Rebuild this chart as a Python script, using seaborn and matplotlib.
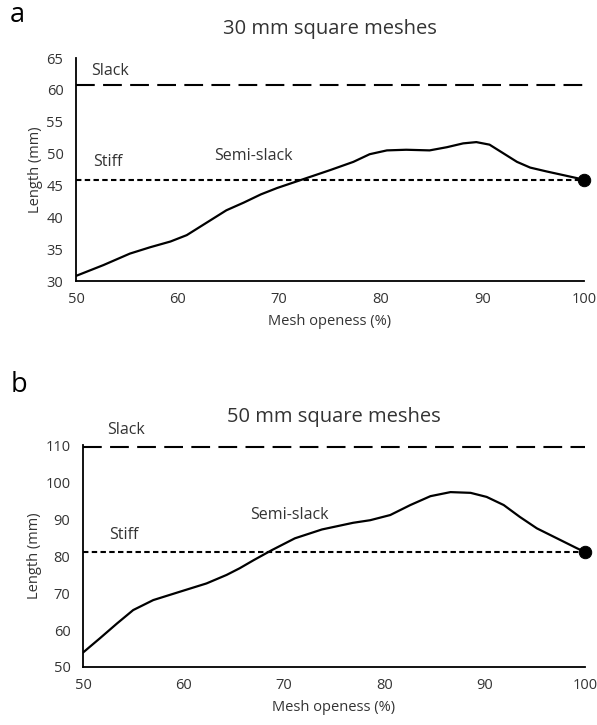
import matplotlib
matplotlib.use("Agg")
import matplotlib.pyplot as plt
import seaborn as sns
import pandas as pd

# ---- data ----
x_a = [50, 52.7, 55.3, 57.3, 59.3, 60.9, 62.2, 63.5, 64.8, 66.5, 68.2, 69.8, 72.4,
       75, 77.3, 78.9, 80.6, 82.5, 84.8, 86.5, 88.1, 89.4, 90.7, 92.1, 93.4,
       94.7, 96.3, 98.3, 100]
y_a = [30.8, 32.5, 34.3, 35.3, 36.2, 37.2, 38.5, 39.8, 41.1, 42.3, 43.6, 44.6, 46.0,
       47.4, 48.7, 49.9, 50.5, 50.6, 50.5, 51.0, 51.6, 51.8, 51.4, 50.0, 48.7,
       47.8, 47.2, 46.5, 45.9]
slack_a = 60.8
stiff_a = 45.9

x_b = [50, 51.7, 53.4, 55.0, 57.0, 59.7, 62.3, 64.3, 65.6, 67.0, 68.8, 71.1, 73.8,
       76.9, 78.6, 80.6, 82.6, 84.6, 86.6, 88.6, 90.2, 91.9, 93.5, 95.2, 97.2,
       99.2, 100]
y_b = [53.9, 57.8, 61.8, 65.4, 68.1, 70.4, 72.6, 74.9, 76.7, 78.9, 81.6, 84.8, 87.2,
       89.0, 89.7, 91.1, 93.8, 96.2, 97.3, 97.1, 96.0, 93.8, 90.6, 87.5, 84.8,
       82.1, 81.1]
slack_b = 109.6
stiff_b = 81.1

x_range = [50, 100]
xticks = [50, 60, 70, 80, 90, 100]
yticks_a = [30, 35, 40, 45, 50, 55, 60, 65]
yticks_b = [50, 60, 70, 80, 90, 100, 110]
titles = ["30 mm square meshes", "50 mm square meshes"]
panel_letters = ["a", "b"]
xlabel = "Mesh openess (%)"
ylabel = "Length (mm)"

sns.set_theme(style="white")
plt.rcParams['font.family'] = ['Open Sans', 'DejaVu Sans']

fig = plt.figure(figsize=(5.97, 7.25), dpi=100)
ax_a = fig.add_axes([0.1273, 0.6124, 0.851, 0.3076])
ax_b = fig.add_axes([0.139, 0.080, 0.841, 0.306])

txt = "#333333"

def draw(ax, xs, ys, slack, stiff, yticks, title, labels):
    df = pd.DataFrame({"x": xs, "y": ys})
    sns.lineplot(data=df, x="x", y="y", ax=ax, color="black", lw=1.6,
                 sort=False, estimator=None)
    sns.lineplot(x=x_range, y=[slack, slack], ax=ax, color="black", lw=1.5,
                 linestyle=(0, (9, 4)))
    sns.lineplot(x=x_range, y=[stiff, stiff], ax=ax, color="black", lw=1.5,
                 linestyle=(0, (2.6, 1.6)))
    sns.scatterplot(x=[xs[-1]], y=[ys[-1]], ax=ax, color="black", s=80,
                    edgecolor="black", zorder=5, clip_on=False)
    ax.set_xlim(50, 100)
    ax.set_ylim(yticks[0], yticks[-1])
    ax.set_xticks(xticks)
    ax.set_yticks(yticks)
    ax.tick_params(axis="y", length=0, labelsize=10.5, colors=txt, pad=9)
    ax.tick_params(axis="x", length=0, labelsize=10.5, colors=txt, pad=8)
    for s in ["top", "right"]:
        ax.spines[s].set_visible(False)
    for s in ["left", "bottom"]:
        ax.spines[s].set_color("black")
        ax.spines[s].set_linewidth(1.3)
    ax.set_xlabel(xlabel, fontsize=10.5, color=txt, labelpad=5)
    ax.set_ylabel(ylabel, fontsize=10.5, color=txt, labelpad=2.5)
    ax.set_title(title, fontsize=14.5, color=txt, pad=17, x=0.5)
    ax.set_facecolor("white")
    for (lx, ly, lt) in labels:
        ax.text(lx, ly, lt, fontsize=11.5, color=txt, ha="left", va="center",
                clip_on=False)
    ax.grid(False)

draw(ax_a, x_a, y_a, slack_a, stiff_a, yticks_a, titles[0],
     [(51.5, 63.0, "Slack"), (51.7, 48.6, "Stiff"), (63.6, 49.6, "Semi-slack")])
draw(ax_b, x_b, y_b, slack_b, stiff_b, yticks_b, titles[1],
     [(52.4, 114.2, "Slack"), (52.6, 85.8, "Stiff"), (66.6, 91.0, "Semi-slack")])

fig.text(0.017, 0.979, panel_letters[0], fontsize=19.5, color="black", va="center")
fig.text(0.017, 0.469, panel_letters[1], fontsize=19.5, color="black", va="center")

fig.savefig("out.png", dpi=100, facecolor="white")
